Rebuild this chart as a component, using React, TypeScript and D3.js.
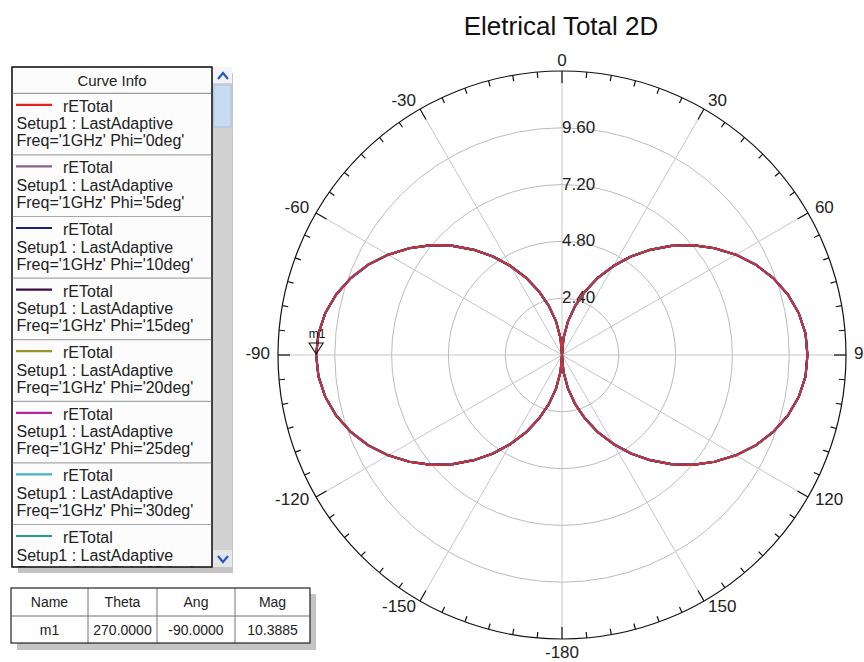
import React from "react";
import * as d3 from "d3";

// ---- data ----
const chartTitle = "Eletrical Total 2D";

// Theta (deg) samples of the far-field cut
const thetaDeg = [
  0, 5, 10, 15, 20, 25, 30, 35, 40, 45, 50, 55, 60, 65, 70, 75, 80, 85, 90,
  95, 100, 105, 110, 115, 120, 125, 130, 135, 140, 145, 150, 155, 160, 165, 170, 175, 180,
  185, 190, 195, 200, 205, 210, 215, 220, 225, 230, 235, 240, 245, 250, 255, 260, 265, 270,
  275, 280, 285, 290, 295, 300, 305, 310, 315, 320, 325, 330, 335, 340, 345, 350, 355, 360,
];

// rETotal magnitude at each theta
const rETotal = [
  0.0, 0.71, 1.43, 2.15, 2.87, 3.61, 4.34, 5.08, 5.8, 6.52, 7.22, 7.87, 8.48, 9.03, 9.5, 9.88, 10.16, 10.33, 10.37,
  10.33, 10.16, 9.88, 9.5, 9.03, 8.48, 7.87, 7.22, 6.52, 5.8, 5.08, 4.34, 3.61, 2.87, 2.15, 1.43, 0.71, 0.0,
  0.71, 1.43, 2.15, 2.87, 3.61, 4.34, 5.08, 5.8, 6.52, 7.22, 7.87, 8.48, 9.03, 9.5, 9.88, 10.16, 10.33, 10.3885,
  10.33, 10.16, 9.88, 9.5, 9.03, 8.48, 7.87, 7.22, 6.52, 5.8, 5.08, 4.34, 3.61, 2.87, 2.15, 1.43, 0.71, 0.0,
];

const ringValues = [2.4, 4.8, 7.2, 9.6];
const radialDomain = [0, 12];
const angleTickLabels = [0, 30, 60, 90, 120, 150, -180, -150, -120, -90, -60, -30];

const phiValues = ["0deg", "5deg", "10deg", "15deg", "20deg", "25deg", "30deg", "35deg"];
const phiColors = ["#e2231c", "#8b6183", "#1c1f78", "#3b0c40", "#9b9527", "#b2279e", "#47b5c1", "#22989a"];

const markerName = "m1";
const markerTheta = 270;
const markerAng = -90;
const markerMag = 10.3885;

const tableHeaders = ["Name", "Theta", "Ang", "Mag"];

const FONT = "'Liberation Sans', Arial, Helvetica, sans-serif";

// fixed 4-decimal format with a plain hyphen for negatives
const fmt4 = (v: number) => d3.format(".4f")(v).replace("\u2212", "-");

export default function App() {
  const W = 864;
  const H = 662;
  const cx = 562;
  const cy = 355;
  const R = 284;

  const r = d3.scaleLinear().domain(radialDomain).range([0, R]);
  const rad = (deg: number) => (deg * Math.PI) / 180;
  const polar = (deg: number, radius: number) => [cx + radius * Math.sin(rad(deg)), cy - radius * Math.cos(rad(deg))];

  const curve = d3
    .lineRadial<number>()
    .angle((_, i) => rad(thetaDeg[i]))
    .radius((d) => r(d))
    .curve(d3.curveLinear);
  const curvePath = curve(rETotal) || "";

  const minorTicks = d3.range(0, 360, 5);
  const spokes = d3.range(0, 360, 30);

  // legend geometry
  const lgX = 12;
  const lgY = 67;
  const lgW = 200;
  const lgH = 500;
  const headerH = 26.3;
  const entryH = 61.6;

  // marker table geometry
  const tbX = 11;
  const tbY = 588;
  const colEdges = [11, 88, 157, 235, 310];
  const rowH = 28;
  const rowValues = [markerName, fmt4(markerTheta), fmt4(markerAng), fmt4(markerMag)];

  const [mx, my] = polar(markerTheta, r(markerMag));

  return (
    <svg
      width={W}
      height={H}
      viewBox={`0 0 ${W} ${H}`}
      style={{ position: "absolute", left: 0, top: 0, background: "#ffffff" }}
      fontFamily={FONT}
    >
      <rect x={0} y={0} width={W} height={H} fill="#ffffff" />

      {/* title */}
      <text x={561} y={35} fontSize={26} textAnchor="middle" fill="#111">
        {chartTitle}
      </text>

      {/* grid rings */}
      {ringValues.map((v) => (
        <circle key={`ring${v}`} cx={cx} cy={cy} r={r(v)} fill="none" stroke="#bcbcbc" strokeWidth={1} />
      ))}
      {/* spokes */}
      {spokes.map((a) => {
        const [x2, y2] = polar(a, R);
        return <line key={`sp${a}`} x1={cx} y1={cy} x2={x2} y2={y2} stroke="#c6c6c6" strokeWidth={1} />;
      })}

      {/* ring value labels */}
      {ringValues.map((v) => (
        <text key={`rl${v}`} x={cx} y={cy - r(v) + 5} fontSize={17} fill="#222">
          {v.toFixed(2)}
        </text>
      ))}

      {/* outer boundary and ticks */}
      <circle cx={cx} cy={cy} r={R} fill="none" stroke="#111" strokeWidth={1.2} />
      {minorTicks.map((a) => {
        const len = a % 30 === 0 ? 12 : 6;
        const [x1, y1] = polar(a, R);
        const [x2, y2] = polar(a, R - len);
        return <line key={`tk${a}`} x1={x1} y1={y1} x2={x2} y2={y2} stroke="#111" strokeWidth={1.2} />;
      })}

      {/* angle labels */}
      {angleTickLabels.map((a) => {
        const s = Math.sin(rad(a));
        const c = Math.cos(rad(a));
        let x: number;
        let y: number;
        let anchor = "middle";
        if (Math.abs(s) < 0.1) {
          x = cx;
          y = c > 0 ? cy - R - 5 : cy + R + 19;
        } else {
          [x, y] = polar(a, R + 8);
          anchor = s > 0 ? "start" : "end";
          y += 4;
        }
        return (
          <text key={`al${a}`} x={x} y={y} fontSize={17} textAnchor={anchor} fill="#222">
            {a}
          </text>
        );
      })}

      {/* pattern curves, one per phi cut (phi=0 drawn last, on top) */}
      <g transform={`translate(${cx},${cy})`} fill="none">
        {phiValues
          .map((p, i) => ({ p, i }))
          .reverse()
          .map(({ p, i }) => (
            <path
              key={`c${p}`}
              d={curvePath}
              stroke={phiColors[i]}
              strokeWidth={i === 0 ? 1.2 : 2.1}
              strokeLinejoin="round"
            />
          ))}
      </g>

      {/* marker m1 */}
      <path
        d={`M${mx - 7},${my - 12} L${mx + 7},${my - 12} L${mx},${my - 1} Z`}
        fill="none"
        stroke="#111"
        strokeWidth={1.1}
      />
      <text x={mx + 1} y={my - 17} fontSize={12} textAnchor="middle" fill="#111">
        {markerName}
      </text>

      {/* Curve Info legend */}
      <rect x={lgX + 6} y={lgY + 6} width={lgW + 15} height={lgH} fill="#c4c4c4" />
      <rect x={lgX} y={lgY} width={lgW} height={lgH} fill="#fcfcfc" stroke="#222" strokeWidth={1.2} />
      {/* scrollbar */}
      <rect x={lgX + lgW + 1} y={lgY} width={19} height={lgH} fill="#d2d2d2" />
      <rect x={lgX + lgW + 1} y={lgY} width={19} height={16} fill="#f2f4f8" />
      <path d={`M${223 - 5},${79} L${223},${73} L${223 + 5},${79}`} fill="none" stroke="#2458c8" strokeWidth={2.2} />
      <rect x={lgX + lgW + 2} y={85} width={17} height={42} fill="#c7dbf2" stroke="#a9c2e2" strokeWidth={1} />
      <rect x={lgX + lgW + 1} y={lgY + lgH - 17} width={19} height={17} fill="#e6e6e6" />
      <path d={`M${223 - 5},${556} L${223},${562} L${223 + 5},${556}`} fill="none" stroke="#2458c8" strokeWidth={2.2} />

      <text x={lgX + lgW / 2} y={lgY + 19} fontSize={15} textAnchor="middle" fill="#222">
        Curve Info
      </text>
      <line x1={lgX} x2={lgX + lgW} y1={lgY + headerH} y2={lgY + headerH} stroke="#9a9a9a" strokeWidth={1.2} />

      <defs>
        <clipPath id="legendClip">
          <rect x={lgX} y={lgY + headerH} width={lgW} height={lgH - headerH} />
        </clipPath>
      </defs>
      <g clipPath="url(#legendClip)" fontSize={16} fill="#222">
        {phiValues.map((p, i) => {
          const top = lgY + headerH + entryH * i;
          return (
            <g key={`lg${p}`}>
              <line x1={16} x2={52} y1={top + 11.5} y2={top + 11.5} stroke={phiColors[i]} strokeWidth={2.2} />
              <text x={63} y={top + 18.5}>
                rETotal
              </text>
              <text x={16.5} y={top + 36}>
                Setup1 : LastAdaptive
              </text>
              <text x={16.5} y={top + 53}>
                {`Freq='1GHz' Phi='${p}'`}
              </text>
              <line x1={lgX} x2={lgX + lgW} y1={top + entryH} y2={top + entryH} stroke="#a8a8a8" strokeWidth={1.2} />
            </g>
          );
        })}
      </g>
      <rect x={lgX} y={lgY} width={lgW} height={lgH} fill="none" stroke="#222" strokeWidth={1.2} />

      {/* marker table */}
      <rect x={tbX + 6} y={tbY + 6} width={colEdges[4] - tbX} height={rowH * 2} fill="#c4c4c4" />
      <rect x={tbX} y={tbY} width={colEdges[4] - tbX} height={rowH * 2 - 1} fill="#ffffff" />
      {colEdges.slice(1, 4).map((x) => (
        <line key={`cv${x}`} x1={x} x2={x} y1={tbY} y2={tbY + rowH * 2 - 1} stroke="#777" strokeWidth={1} />
      ))}
      <line x1={tbX} x2={colEdges[4]} y1={tbY + rowH} y2={tbY + rowH} stroke="#777" strokeWidth={1} />
      <rect
        x={tbX}
        y={tbY}
        width={colEdges[4] - tbX}
        height={rowH * 2 - 1}
        fill="none"
        stroke="#222"
        strokeWidth={1.2}
      />
      {tableHeaders.map((h, i) => (
        <text
          key={`th${h}`}
          x={(colEdges[i] + colEdges[i + 1]) / 2}
          y={tbY + 19}
          fontSize={14}
          textAnchor="middle"
          fill="#222"
        >
          {h}
        </text>
      ))}
      {rowValues.map((v, i) => (
        <text
          key={`tv${i}`}
          x={(colEdges[i] + colEdges[i + 1]) / 2}
          y={tbY + rowH + 19}
          fontSize={14}
          textAnchor="middle"
          fill="#222"
        >
          {v}
        </text>
      ))}
    </svg>
  );
}
